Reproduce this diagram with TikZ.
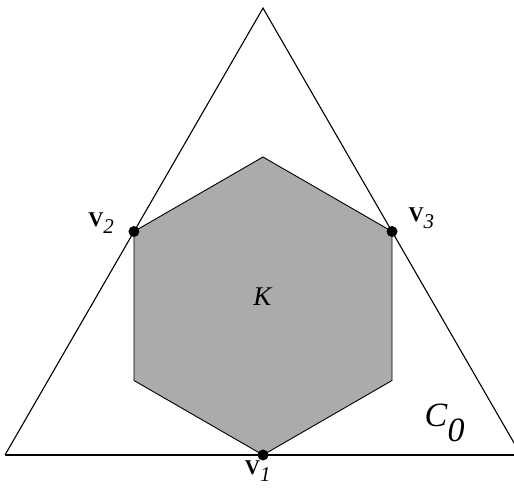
\documentclass[tikz,border=0pt]{standalone}
\usepackage{fontspec}
\setmainfont{Liberation Serif}
\usetikzlibrary{calc}

\tikzset{
  edge/.style={line width=1.1pt,black},
  vdot/.style={fill=black},
  vlabel/.style={font=\fontsize{21}{24}\selectfont},
}

\begin{document}
\begin{tikzpicture}[x=1pt,y=1pt]
        \useasboundingbox (0,0) rectangle (514,492);
        \clip (0,0) rectangle (514,492);
        \coordinate (O) at (263,186);
        \coordinate (v1) at ($(O)+(270:149)$);
        \coordinate (h2) at ($(O)+(330:149)$);
        \coordinate (v3) at ($(O)+(30:149)$);
        \coordinate (h4) at ($(O)+(90:149)$);
        \coordinate (v2) at ($(O)+(150:149)$);
        \coordinate (h6) at ($(O)+(210:149)$);
        \coordinate (tl) at (5,37);
        \coordinate (tr) at (521,37);
        \coordinate (tt) at (263,483.9);
        \filldraw[fill=black!33,draw=black,line width=0.9pt] (v1) -- (h2) -- (v3) -- (h4) -- (v2) -- (h6) -- cycle;
        \draw[edge] (tl) -- (tt) -- (tr);
        \draw[edge] (tl) -- (525,37);
        \fill[vdot] (v1) circle (5.5pt);
        \fill[vdot] (v2) circle (5.5pt);
        \fill[vdot] (v3) circle (5.5pt);
        \node[vlabel,anchor=base] (l1) at ($(v1)+(-5,-20)$) {\textbf{V}$_{\textit{1}}$};
        \node[vlabel,anchor=base east] (l2) at ($(v2)+(-16,4.5)$) {\textbf{V}$_{\textit{2}}$};
        \node[vlabel,anchor=base west] (l3) at ($(v3)+(13,9.5)$) {\textbf{V}$_{\textit{3}}$};
        \node[font=\fontsize{27}{30}\selectfont,anchor=base] (k) at (O) {\textit{K}};
        \node[font=\fontsize{34}{38}\selectfont,anchor=base west] (c0) at (421,65) {\textit{C}$_{\textit{0}}$};
    \end{tikzpicture}
\end{document}
